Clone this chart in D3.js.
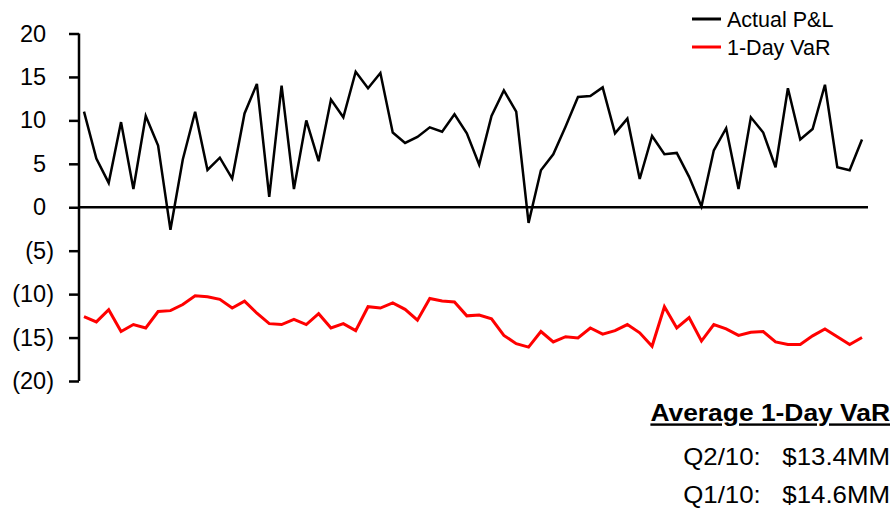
<!DOCTYPE html>
<html>
<head>
<meta charset="utf-8">
<script src="https://cdn.jsdelivr.net/npm/d3@7/dist/d3.min.js"></script>
<style>
  html, body { margin: 0; padding: 0; background: #fff; }
  svg { display: block; font-family: "Liberation Sans", Arial, sans-serif; }
</style>
</head>
<body>
<svg id="chart" width="893" height="512"></svg>
<script>
// Daily trading P&L against 1-day VaR ($MM)
const actualPL = [
  11.0, 5.6, 2.8, 9.8, 2.1, 10.5, 7.1, -2.6, 5.5, 11.0,
  4.3, 5.7, 3.3, 10.8, 14.2, 1.2, 14.0, 2.1, 10.0, 5.3,
  12.4, 10.35, 15.6, 13.7, 15.45, 8.6, 7.4, 8.1, 9.2, 8.7,
  10.7, 8.5, 4.9, 10.5, 13.45, 11.0, -1.8, 4.25, 6.1, 9.3,
  12.7, 12.8, 13.8, 8.5, 10.2, 3.25, 8.2, 6.1, 6.25, 3.5,
  0.1, 6.55, 9.1, 2.1, 10.35, 8.6, 4.6, 13.7, 7.8, 9.0,
  14.1, 4.6, 4.25, 7.8
];
const oneDayVaR = [
  -12.6, -13.2, -11.8, -14.3, -13.5, -13.9, -12.0, -11.9, -11.2, -10.2,
  -10.3, -10.6, -11.6, -10.8, -12.2, -13.4, -13.5, -12.9, -13.5, -12.25,
  -13.9, -13.4, -14.2, -11.45, -11.6, -11.0, -11.75, -13.0, -10.5, -10.8,
  -10.9, -12.5, -12.4, -12.85, -14.75, -15.7, -16.1, -14.3, -15.5, -14.9,
  -15.05, -13.9, -14.6, -14.2, -13.5, -14.45, -16.0, -11.45, -13.9, -12.7,
  -15.4, -13.5, -14.0, -14.75, -14.4, -14.3, -15.5, -15.8, -15.8, -14.8,
  -14.0, -14.9, -15.8, -15.0
];
const yTicks = [20, 15, 10, 5, 0, -5, -10, -15, -20];
const seriesNames = ["Actual P&L", "1-Day VaR"];
const seriesColors = ["#000000", "#ff0000"];
const avgTitle = "Average 1-Day VaR";
const avgQuarters = ["Q2/10:", "Q1/10:"];
const avgValues = [13.4, 14.6];

const svg = d3.select("#chart");

const days = d3.range(actualPL.length);
const x = d3.scalePoint().domain(days).range([84, 862]);
const y = d3.scaleLinear().domain([-20, 20]).range([381, 33.5]);

// accounting-style labels: negatives in parentheses
const fmt = v => v < 0 ? `(${Math.abs(v)})` : `${v}`;

const yAxis = svg.append("g")
  .attr("transform", "translate(79,0)")
  .call(d3.axisLeft(y).tickValues(yTicks).tickFormat(fmt).tickSize(10).tickPadding(15));
yAxis.select(".domain").attr("stroke", "#000").attr("stroke-width", 2.5)
  .attr("d", `M0,${y(20)}V${y(-20)}`);
yAxis.selectAll(".tick line").attr("stroke", "#000").attr("stroke-width", 2.5);
yAxis.selectAll(".tick text")
  .attr("fill", "#000")
  .style("font-size", "23.5px")
  .attr("dx", d => d < 0 ? "0" : "-0.333em");

// zero line
svg.append("line")
  .attr("x1", 79).attr("x2", 868)
  .attr("y1", y(0)).attr("y2", y(0))
  .attr("stroke", "#000").attr("stroke-width", 2.5);

const line = d3.line().x((d, i) => x(i)).y(d => y(d));

svg.append("path").datum(oneDayVaR)
  .attr("fill", "none").attr("stroke", seriesColors[1]).attr("stroke-width", 3)
  .attr("stroke-linejoin", "miter").attr("d", line);

svg.append("path").datum(actualPL)
  .attr("fill", "none").attr("stroke", seriesColors[0]).attr("stroke-width", 2.5)
  .attr("stroke-linejoin", "miter").attr("d", line);

// legend
const legend = svg.append("g");
seriesNames.forEach((name, i) => {
  const ly = 19 + i * 28;
  legend.append("line")
    .attr("x1", 692).attr("x2", 721).attr("y1", ly).attr("y2", ly)
    .attr("stroke", seriesColors[i]).attr("stroke-width", 3);
  legend.append("text")
    .attr("x", 727).attr("y", ly + 8)
    .style("font-size", "21.5px")
    .text(name);
});

// average VaR note, set in a slightly widened face
const note = svg.append("g").attr("transform", "translate(890,0) scale(1.1,1)");
note.append("text")
  .attr("x", 0).attr("y", 421.5)
  .attr("text-anchor", "end")
  .style("font-size", "24px").style("font-weight", "bold")
  .style("text-decoration", "underline")
  .text(avgTitle);

avgQuarters.forEach((q, i) => {
  note.append("text")
    .attr("x", 0).attr("y", 465 + i * 38.5)
    .attr("text-anchor", "end")
    .style("font-size", "23.5px")
    .attr("xml:space", "preserve")
    .text(`${q}   $${avgValues[i].toFixed(1)}MM`);
});
</script>
</body>
</html>
